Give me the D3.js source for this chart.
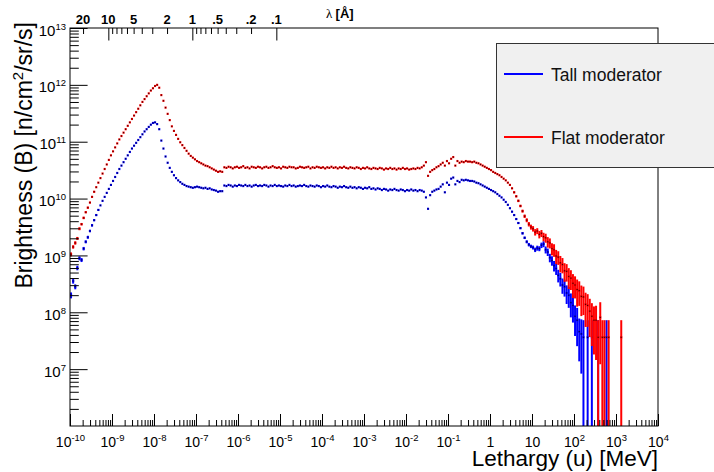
<!DOCTYPE html>
<html>
<head>
<meta charset="utf-8">
<script src="https://cdn.jsdelivr.net/npm/d3@7"></script>
<style>
  body { margin: 0; background: #fff; }
  svg { display: block; font-family: "Liberation Sans", Arial, sans-serif; }
</style>
</head>
<body>
<svg id="chart"></svg>
<script>
let w = 714;
let h = 472;

// histogram binning: log bins of 0.05 decade starting at 1e-10 MeV
let binStart = -10, binStep = 0.05;

// log10 of brightness per bin (null = empty bin)
let tallLog = [
  8.30, 8.55, 8.45, 8.78, 8.95, 8.92, 9.12, 9.24, 9.32, 9.43,
  9.53, 9.62, 9.71, 9.80, 9.88, 9.96, 10.03, 10.10, 10.17, 10.24,
  10.31, 10.38, 10.45, 10.52, 10.58, 10.64, 10.70, 10.76, 10.82, 10.88,
  10.93, 10.98, 11.03, 11.08, 11.13, 11.18, 11.22, 11.26, 11.30, 11.33,
  11.34, 11.31, 11.22, 11.02,
  10.88, 10.74, 10.63, 10.54, 10.47, 10.41, 10.36, 10.32, 10.29, 10.26,
  10.24, 10.22, 10.21, 10.20, 10.19, 10.20, 10.21, 10.20, 10.19, 10.18,
  10.19, 10.17, 10.18, 10.16, 10.15, 10.14, 10.12, 10.13, 10.13,
  10.23, 10.22, 10.24, 10.23, 10.21, 10.23, 10.22, 10.24, 10.23, 10.22,
  10.24, 10.22, 10.23, 10.21, 10.23, 10.24, 10.22, 10.23, 10.22, 10.24,
  10.23, 10.21, 10.23, 10.22, 10.24, 10.22, 10.23, 10.22, 10.21, 10.23,
  10.22, 10.24, 10.22, 10.23, 10.21, 10.22, 10.23, 10.22, 10.24, 10.22,
  10.21, 10.23, 10.22, 10.21, 10.23, 10.22, 10.20, 10.22, 10.21, 10.23,
  10.21, 10.20, 10.22, 10.21, 10.19, 10.21, 10.20, 10.22, 10.20, 10.19,
  10.21, 10.19, 10.20, 10.18, 10.20, 10.19, 10.17, 10.19, 10.18, 10.20,
  10.17, 10.18, 10.16, 10.18, 10.17, 10.15, 10.17, 10.16, 10.14, 10.16,
  10.15, 10.17, 10.15, 10.14, 10.16, 10.15, 10.13, 10.15, 10.14, 10.16,
  10.14, 10.15, 10.13, 10.15, 10.14,
  10.12, 10.02, 9.82, 10.06, 10.12, 10.14, 10.16, 10.17, 10.21, 10.25,
  10.11, 10.28, 10.24, 10.35, 10.37, 10.25, 10.31, 10.29, 10.33, 10.32,
  10.33, 10.32, 10.31, 10.31, 10.30, 10.28, 10.27, 10.25, 10.23, 10.21,
  10.19, 10.17, 10.15, 10.13, 10.11, 10.08, 10.05, 10.02, 9.98, 9.94,
  9.89, 9.83, 9.77, 9.71, 9.64, 9.57, 9.48, 9.39, 9.31, 9.24,
  9.19, 9.16, 9.14, 9.10, 9.13, 9.12, 9.18, 9.20, 9.10, 9.06,
  8.96, 8.91, 8.82, 8.77, 8.65, 8.59, 8.48, 8.45, 8.34, 8.30,
  8.17, 8.12, 7.93, 7.86, 7.66, 7.62,
  7.56, null, 7.56, null, 7.56, null, null, 7.56, null, null,
  null, 7.56, null, null, null, null, null, null, null
];

let flatLog = [
  9.02, 9.15, 9.22, 9.30, 9.47, 9.55, 9.66, 9.76, 9.84, 9.93,
  10.03, 10.12, 10.20, 10.28, 10.36, 10.44, 10.52, 10.60, 10.68, 10.76,
  10.83, 10.90, 10.97, 11.04, 11.10, 11.16, 11.22, 11.28, 11.34, 11.40,
  11.46, 11.52, 11.58, 11.64, 11.70, 11.75, 11.80, 11.85, 11.90, 11.94,
  11.98, 12.00, 11.95, 11.82,
  11.72, 11.60, 11.49, 11.38, 11.27, 11.19, 11.12, 11.05, 10.99, 10.94,
  10.89, 10.84, 10.79, 10.75, 10.72, 10.69, 10.66, 10.64, 10.62, 10.60,
  10.58, 10.57, 10.55, 10.53, 10.51, 10.49, 10.47, 10.48, 10.47,
  10.55, 10.54, 10.56, 10.55, 10.53, 10.55, 10.56, 10.54, 10.55, 10.57,
  10.54, 10.55, 10.53, 10.56, 10.55, 10.54, 10.56, 10.55, 10.53, 10.55,
  10.56, 10.54, 10.55, 10.57, 10.55, 10.54, 10.55, 10.53, 10.56, 10.55,
  10.54, 10.56, 10.55, 10.55, 10.53, 10.54, 10.56, 10.55, 10.54, 10.55,
  10.56, 10.53, 10.55, 10.54, 10.56, 10.55, 10.54, 10.55, 10.53, 10.55,
  10.54, 10.56, 10.54, 10.55, 10.53, 10.55, 10.54, 10.56, 10.54, 10.53,
  10.55, 10.54, 10.53, 10.55, 10.54, 10.52, 10.54, 10.53, 10.55, 10.53,
  10.52, 10.54, 10.53, 10.52, 10.54, 10.53, 10.51, 10.53, 10.52, 10.54,
  10.52, 10.53, 10.51, 10.53, 10.52, 10.54, 10.52, 10.53, 10.51, 10.52,
  10.53, 10.52, 10.54, 10.53, 10.55,
  10.58, 10.64, 10.40, 10.47, 10.50, 10.52, 10.55, 10.57, 10.60, 10.63,
  10.58, 10.66, 10.62, 10.70, 10.73, 10.58, 10.66, 10.63, 10.65, 10.64,
  10.66, 10.65, 10.65, 10.64, 10.65, 10.63, 10.62, 10.60, 10.58, 10.56,
  10.54, 10.52, 10.50, 10.47, 10.45, 10.43, 10.41, 10.38, 10.35, 10.32,
  10.28, 10.24, 10.18, 10.11, 10.04, 9.96, 9.87, 9.78, 9.69, 9.62,
  9.55, 9.50, 9.47, 9.41, 9.43, 9.37, 9.39, 9.33, 9.31, 9.24,
  9.22, 9.12, 9.10, 8.99, 8.97, 8.87, 8.84, 8.73, 8.72, 8.63,
  8.60, 8.51, 8.48, 8.40, 8.38, 8.28, 8.27, 8.14, 8.12, 8.02,
  7.93, 7.86,
  7.86, 7.56, 7.91, 7.56, 7.56, null, 7.56, null, null, null,
  null, null, 7.56
];

// relative errors at the low energy start (bins 0..) and in the high energy tail (from tailStart)
let tallHeadErr = [0.12, 0.10, 0.10, 0.09, 0.08, 0.08, 0.07, 0.06, 0.06, 0.05, 0.05, 0.04, 0.04, 0.03];
let flatHeadErr = [0.08, 0.07, 0.07, 0.06, 0.06, 0.05, 0.05, 0.04, 0.04, 0.03, 0.03, 0.03];
let tailStart = 209;
let tallTailErr = [
  0.02, 0.03, 0.03, 0.03, 0.04, 0.04, 0.05, 0.05, 0.06, 0.07,
  0.07, 0.08, 0.09, 0.10, 0.10, 0.11, 0.12, 0.14, 0.15, 0.17,
  0.19, 0.21, 0.23, 0.25, 0.27, 0.30, 0.33, 0.36, 0.40, 0.45,
  0.50, 0.55, 0.65, 0.70, 0.80, 1, 0, 1, 0, 1,
  0, 0, 1, 0, 0, 0, 1, 0, 0, 0,
  0, 0, 0, 0
];
let flatTailErr = [
  0.03, 0.03, 0.04, 0.04, 0.05, 0.05, 0.06, 0.07, 0.08, 0.09,
  0.10, 0.11, 0.13, 0.12, 0.15, 0.14, 0.17, 0.18, 0.21, 0.20,
  0.24, 0.25, 0.28, 0.27, 0.32, 0.30, 0.36, 0.34, 0.40, 0.38,
  0.45, 0.42, 0.50, 0.46, 0.55, 0.52, 0.60, 0.58, 0.65, 0.70,
  0.75, 0.80, 1, 0.85, 1, 1, 0, 1, 0, 0,
  0, 0, 0, 1
];

let seriesNames = ["Tall moderator", "Flat moderator"];
let seriesColors = ["#0000ff", "#ff0000"];

let xTicks = [1e-10, 1e-9, 1e-8, 1e-7, 1e-6, 1e-5, 1e-4, 1e-3, 1e-2, 1e-1, 1, 10, 1e2, 1e3, 1e4];
let yTicks = [1e7, 1e8, 1e9, 1e10, 1e11, 1e12, 1e13];
let lambdaMajor = [10, 1, 0.1];
let lambdaMinor = [20, 9, 8, 7, 6, 5, 4, 3, 2, 0.9, 0.8, 0.7, 0.6, 0.5, 0.4, 0.3, 0.2];
let lambdaLabels = [20, 10, 5, 2, 1, 0.5, 0.2, 0.1];

// E [MeV] = 8.181e-8 / lambda^2 [A]
let eLambda = 8.181e-8;

let frame = { left: 70, right: 658, top: 28, bottom: 426 };

let svg = d3.select("#chart").attr("width", w).attr("height", h);

let xScale = d3.scaleLog().domain([1e-10, 1e4]).range([frame.left, frame.right]);
let yScale = d3.scaleLog().domain([1e6, 1e13]).range([frame.bottom, frame.top]);
let lamScale = d3.scaleLog()
  .domain([Math.sqrt(eLambda / 1e-10), Math.sqrt(eLambda / 1e4)])
  .range([frame.left, frame.right]);

function minorsOf(lo, hi) {
  let out = [];
  for (let k = lo; k < hi; k++) for (let d = 2; d < 10; d++) out.push(d * Math.pow(10, k));
  return out;
}

function expLabel(sel, v) {
  let e = Math.round(Math.log10(v));
  if (e === 0) { sel.append("tspan").text("1"); return; }
  if (e === 1) { sel.append("tspan").text("10"); return; }
  sel.append("tspan").text("10");
  sel.append("tspan").attr("dy", -6).attr("font-size", 9.5).text(e);
}

// clip for data
svg.append("clipPath").attr("id", "clip")
  .append("rect")
  .attr("x", frame.left).attr("y", frame.top)
  .attr("width", frame.right - frame.left).attr("height", frame.bottom - frame.top);

// data
let plot = svg.append("g").attr("clip-path", "url(#clip)");

[[tallLog, tallHeadErr, tallTailErr, 0], [flatLog, flatHeadErr, flatTailErr, 1]].forEach(([vals, headErr, tailErr, s]) => {
  let g = plot.append("g");
  let col = seriesColors[s];
  vals.forEach((v, i) => {
    if (v === null) return;
    let lo = binStart + binStep * i;
    let val = Math.pow(10, v);
    let xc = xScale(Math.pow(10, lo + binStep / 2));
    let yc = yScale(val);
    g.append("line")
      .attr("x1", xScale(Math.pow(10, lo))).attr("x2", xScale(Math.pow(10, lo + binStep)))
      .attr("y1", yc).attr("y2", yc)
      .attr("stroke", col).attr("stroke-width", 2.2);
    let e = i >= tailStart ? tailErr[i - tailStart] : (i < headErr.length ? headErr[i] : 0);
    if (e > 0) {
      let yLo = e >= 1 ? frame.bottom + 5 : yScale(val * (1 - e));
      g.append("line")
        .attr("x1", xc).attr("x2", xc)
        .attr("y1", yScale(val * (1 + e))).attr("y2", yLo)
        .attr("stroke", col).attr("stroke-width", 2);
    }
    g.append("rect")
      .attr("x", xc - 0.6).attr("y", yc - 0.6)
      .attr("width", 1.2).attr("height", 1.2)
      .attr("fill", "#000").attr("opacity", 0.75);
  });
});

// bottom axis (ticks inside)
svg.append("g")
  .attr("transform", `translate(0,${frame.bottom})`)
  .call(d3.axisBottom(xScale).tickValues(minorsOf(-10, 4)).tickSize(-6).tickFormat(""))
  .call(g => g.select(".domain").remove());
let xAxisGroup = svg.append("g")
  .attr("transform", `translate(0,${frame.bottom})`)
  .call(d3.axisBottom(xScale).tickValues(xTicks).tickSize(-12).tickFormat(""))
  .call(g => g.select(".domain").remove());
xAxisGroup.selectAll(".tick").each(function (d) {
  let t = d3.select(this).append("text")
    .attr("fill", "#000").attr("font-size", 14)
    .attr("text-anchor", "middle").attr("y", 21).attr("dy", null);
  expLabel(t, d);
});

// left axis (ticks inside)
svg.append("g")
  .attr("transform", `translate(${frame.left},0)`)
  .call(d3.axisLeft(yScale).tickValues(minorsOf(6, 13)).tickSize(-8.8).tickFormat(""))
  .call(g => g.select(".domain").remove());
let yAxisGroup = svg.append("g")
  .attr("transform", `translate(${frame.left},0)`)
  .call(d3.axisLeft(yScale).tickValues(yTicks).tickSize(-17.6).tickFormat(""))
  .call(g => g.select(".domain").remove());
yAxisGroup.selectAll(".tick").each(function (d) {
  let t = d3.select(this).append("text")
    .attr("fill", "#000").attr("font-size", 15)
    .attr("text-anchor", "end").attr("x", -4).attr("y", 7).attr("dy", null);
  expLabel(t, d);
});

// top wavelength axis
svg.append("g")
  .attr("transform", `translate(0,${frame.top})`)
  .call(d3.axisTop(lamScale).tickValues(lambdaMinor).tickSize(-6).tickFormat(""))
  .call(g => g.select(".domain").remove());
svg.append("g")
  .attr("transform", `translate(0,${frame.top})`)
  .call(d3.axisTop(lamScale).tickValues(lambdaMajor).tickSize(-12.5).tickFormat(""))
  .call(g => g.select(".domain").remove());
svg.append("g").selectAll("text")
  .data(lambdaLabels)
  .join("text")
  .attr("x", d => lamScale(d))
  .attr("y", 24)
  .attr("text-anchor", "middle")
  .attr("font-size", 13)
  .attr("font-weight", "bold")
  .text(d => d < 1 ? String(d).replace(/^0/, "") : d);

let lamTitle = svg.append("text").attr("x", 326).attr("y", 18).attr("font-size", 13);
lamTitle.append("tspan").attr("font-family", "'Liberation Serif', serif").text("λ ");
lamTitle.append("tspan").attr("font-weight", "bold").text("[Å]");

// frame
svg.append("rect")
  .attr("x", frame.left).attr("y", frame.top)
  .attr("width", frame.right - frame.left).attr("height", frame.bottom - frame.top)
  .attr("fill", "none").attr("stroke", "#000").attr("stroke-width", 1);

// axis titles
svg.append("text")
  .attr("x", frame.right).attr("y", 466)
  .attr("text-anchor", "end").attr("font-size", 22.5)
  .text("Lethargy (u) [MeV]");

let yTitle = svg.append("text")
  .attr("transform", `translate(32,${frame.top - 6}) rotate(-90)`)
  .attr("text-anchor", "end").attr("font-size", 23);
yTitle.append("tspan").text("Brightness (B) [n/cm");
yTitle.append("tspan").attr("dy", -9).attr("font-size", 15).text("2");
yTitle.append("tspan").attr("dy", 9).text("/sr/s]");

// legend
let legend = svg.append("g");
legend.append("rect")
  .attr("x", 496.5).attr("y", 43.5).attr("width", 240).attr("height", 124)
  .attr("fill", "#f0f0f0").attr("stroke", "#333").attr("stroke-width", 1);
seriesNames.forEach((name, i) => {
  let yl = 74 + i * 63;
  legend.append("line")
    .attr("x1", 504).attr("x2", 543).attr("y1", yl).attr("y2", yl)
    .attr("stroke", seriesColors[i]).attr("stroke-width", 2);
  legend.append("text")
    .attr("x", 551).attr("y", yl + 7)
    .attr("font-size", 17.5).attr("fill", "#111")
    .text(name);
});
</script>
</body>
</html>
